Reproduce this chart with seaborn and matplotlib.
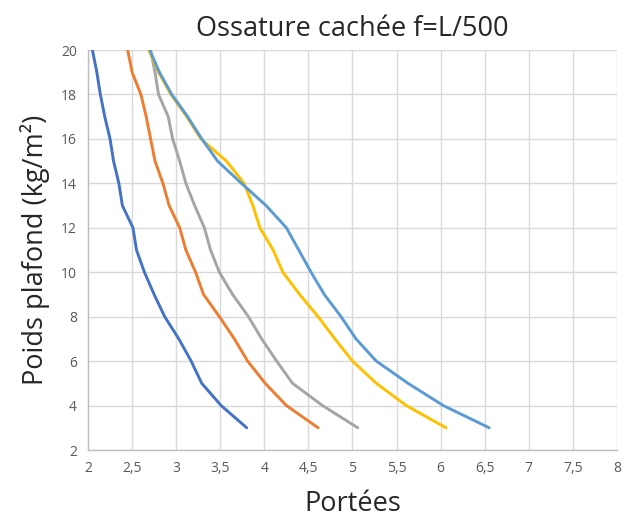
import matplotlib
matplotlib.use("Agg")
import matplotlib.pyplot as plt
import seaborn as sns
import pandas as pd
from matplotlib.ticker import FuncFormatter, MultipleLocator

poids = [3, 4, 5, 6, 7, 8, 9, 10, 11, 12, 13, 14, 15, 16, 17, 18, 19, 20]
serie1 = [3.80, 3.51, 3.29, 3.17, 3.03, 2.87, 2.75, 2.64, 2.55, 2.51, 2.39, 2.35, 2.29, 2.25, 2.19, 2.14, 2.10, 2.05]
serie2 = [4.61, 4.25, 4.01, 3.81, 3.66, 3.49, 3.31, 3.22, 3.11, 3.04, 2.92, 2.85, 2.76, 2.71, 2.66, 2.60, 2.50, 2.45]
serie3 = [5.06, 4.66, 4.32, 4.14, 3.97, 3.82, 3.64, 3.49, 3.39, 3.32, 3.21, 3.11, 3.04, 2.96, 2.91, 2.80, 2.76, 2.71]
serie4 = [6.06, 5.61, 5.27, 5.00, 4.80, 4.61, 4.40, 4.21, 4.10, 3.95, 3.87, 3.77, 3.57, 3.28, 3.12, 2.94, 2.80, 2.69]
serie5 = [6.55, 6.03, 5.63, 5.27, 5.04, 4.87, 4.68, 4.53, 4.39, 4.25, 4.02, 3.74, 3.47, 3.29, 3.13, 2.95, 2.81, 2.70]
noms = ["Série1", "Série2", "Série3", "Série4", "Série5"]
couleurs = ["#4472C4", "#ED7D31", "#A5A5A5", "#FFC000", "#5B9BD5"]

rows = []
for nom, vals in zip(noms, [serie1, serie2, serie3, serie4, serie5]):
    for p, v in zip(poids, vals):
        rows.append({"serie": nom, "portee": v, "poids": p})
df = pd.DataFrame(rows)

sns.set_theme(style="white")
plt.rcParams['font.family'] = ['Open Sans', 'DejaVu Sans']

fig = plt.figure(figsize=(6.28, 5.23), dpi=100)
ax = fig.add_axes([88/628, 1 - 450/523, (617-88)/628, (450-50)/523])

for nom, c in zip(noms, couleurs):
    sub = df[df.serie == nom]
    sns.lineplot(data=sub, x="portee", y="poids", sort=False, color=c,
                 linewidth=2.1, ax=ax, legend=False, estimator=None)

ax.set_xlim(2, 8)
ax.set_ylim(2, 20)
ax.xaxis.set_major_locator(MultipleLocator(0.5))
ax.yaxis.set_major_locator(MultipleLocator(2))
ax.xaxis.set_major_formatter(FuncFormatter(lambda v, p: (f"{v:g}").replace(".", ",")))
ax.yaxis.set_major_formatter(FuncFormatter(lambda v, p: f"{v:g}"))
ax.grid(True, color="#D9D9D9", linewidth=1.0)
ax.set_axisbelow(True)
for s in ["top", "right"]:
    ax.spines[s].set_visible(False)
for s in ["left", "bottom"]:
    ax.spines[s].set_color("#BFBFBF")
    ax.spines[s].set_linewidth(1.0)
ax.tick_params(axis="both", length=0, labelsize=10, labelcolor="#595959", pad=8)

ax.set_title("Ossature cachée f=L/500", fontsize=19.5, color="#262626", pad=10)
ax.set_xlabel("Portées", fontsize=19.5, color="#262626", labelpad=10)
ax.set_ylabel("Poids plafond (kg/m²)", fontsize=19.5, color="#262626", labelpad=8)

fig.savefig("out.png", dpi=100)
